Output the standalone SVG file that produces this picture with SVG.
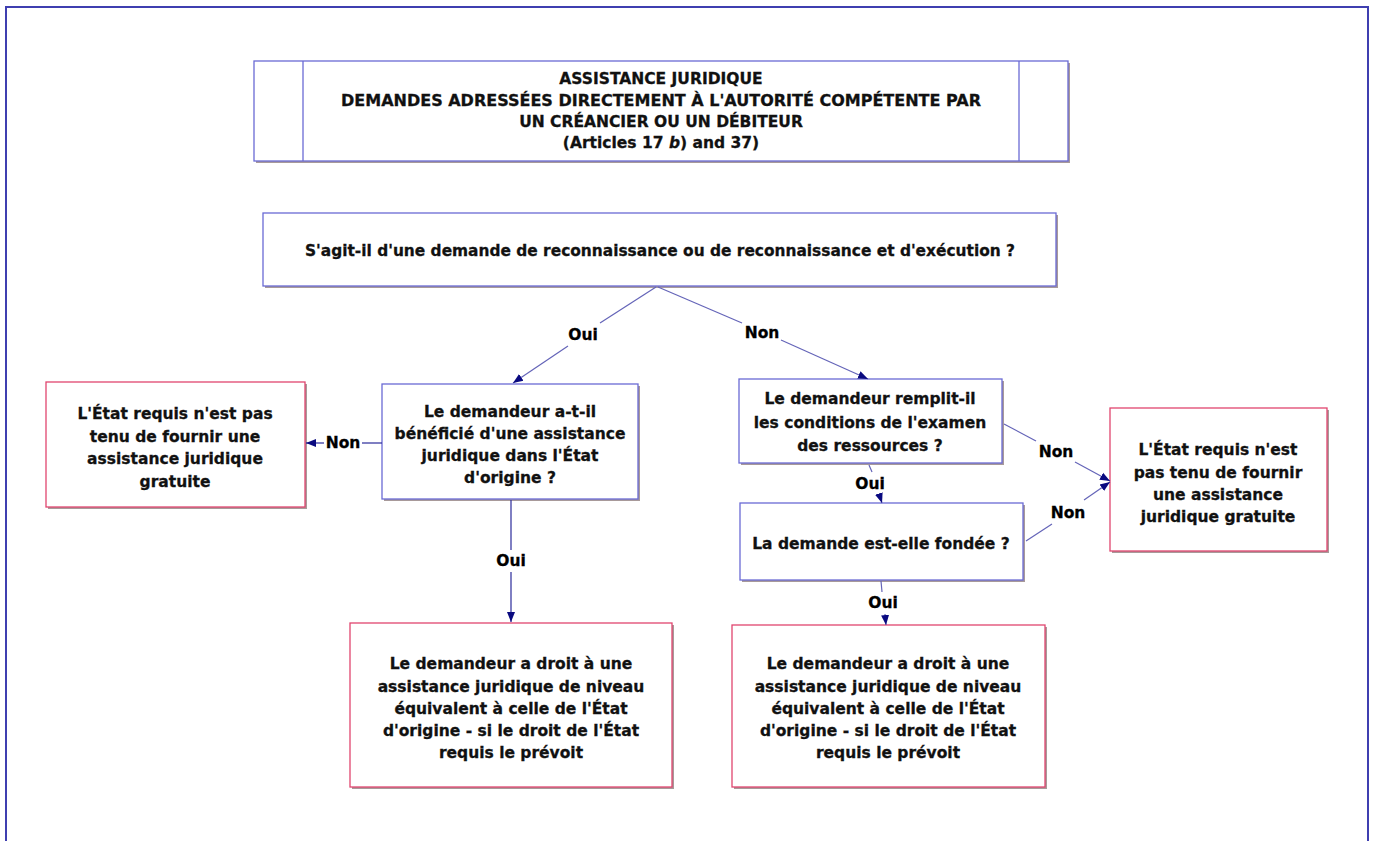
<svg xmlns="http://www.w3.org/2000/svg" width="1373" height="841" viewBox="0 0 1373 841">
  <style>
    .shadow { fill: #a89a9a; }
    .box { fill: #ffffff; stroke: #6a6ad4; stroke-width: 1.3; }
    .pink { fill: #ffffff; stroke: #e0456f; stroke-width: 1.3; }
    .t { font-family: "DejaVu Sans", Verdana, sans-serif; font-weight: bold; font-size: 15.5px; fill: #111111; stroke: #111111; stroke-width: 0.3; text-anchor: middle; }
    .lbl { font-family: "DejaVu Sans", Verdana, sans-serif; font-weight: bold; font-size: 15.5px; fill: #000000; stroke: #000000; stroke-width: 0.3; text-anchor: middle; dominant-baseline: central; }
    .c { fill: none; stroke: #6464b8; stroke-width: 1.2; }
    .cd { fill: none; stroke: #2a2a9a; stroke-width: 1.2; }
  </style>
  <defs>
    <marker id="ah" viewBox="0 0 10 10" refX="10" refY="5" markerWidth="10" markerHeight="10" markerUnits="userSpaceOnUse" orient="auto">
      <path d="M0,1 L10,5 L0,9 z" fill="#0a0a80"/>
    </marker>
  </defs>

  <rect x="0" y="0" width="1373" height="841" fill="#ffffff"/>
  <!-- outer frame -->
  <path d="M6,845 L6,7 L1368,7 L1368,845" fill="none" stroke="#3f3fb0" stroke-width="2"/>

  <!-- title -->
  <g id="title">
    <rect class="shadow" x="256" y="63" width="814" height="100"/>
    <rect class="box" x="254" y="61" width="814" height="100"/>
    <line x1="303" y1="61" x2="303" y2="161" stroke="#6a6ad4" stroke-width="1.3"/>
    <line x1="1019" y1="61" x2="1019" y2="161" stroke="#6a6ad4" stroke-width="1.3"/>
    <text class="t" x="661" y="84">ASSISTANCE JURIDIQUE</text>
    <text class="t" x="661" y="106" textLength="640" lengthAdjust="spacingAndGlyphs">DEMANDES ADRESSÉES DIRECTEMENT À L'AUTORITÉ COMPÉTENTE PAR</text>
    <text class="t" x="661" y="127">UN CRÉANCIER OU UN DÉBITEUR</text>
    <text class="t" x="661" y="148">(Articles 17 <tspan font-style="italic">b</tspan>) and 37)</text>
  </g>

  <g id="q1">
    <rect class="shadow" x="265" y="215" width="793" height="73"/>
    <rect class="box" x="263" y="213" width="793" height="73"/>
    <text class="t" x="660" y="256" textLength="710" lengthAdjust="spacingAndGlyphs">S'agit-il d'une demande de reconnaissance ou de reconnaissance et d'exécution ?</text>
  </g>

  <g id="q2">
    <rect class="shadow" x="384" y="386" width="256" height="115"/>
    <rect class="box" x="382" y="384" width="256" height="115"/>
    <text class="t" x="510" y="417">Le demandeur a-t-il</text>
    <text class="t" x="510" y="439">bénéficié d'une assistance</text>
    <text class="t" x="510" y="461">juridique dans l'État</text>
    <text class="t" x="510" y="483">d'origine ?</text>
  </g>

  <g id="no1">
    <rect class="shadow" x="48" y="384" width="259" height="125"/>
    <rect class="pink" x="46" y="382" width="259" height="125"/>
    <text class="t" x="175" y="419">L'État requis n'est pas</text>
    <text class="t" x="175" y="442">tenu de fournir une</text>
    <text class="t" x="175" y="464">assistance juridique</text>
    <text class="t" x="175" y="487">gratuite</text>
  </g>

  <g id="q3">
    <rect class="shadow" x="741" y="381" width="263" height="84"/>
    <rect class="box" x="739" y="379" width="263" height="84"/>
    <text class="t" x="870" y="404">Le demandeur remplit-il</text>
    <text class="t" x="870" y="428">les conditions de l'examen</text>
    <text class="t" x="870" y="451">des ressources ?</text>
  </g>

  <g id="q4">
    <rect class="shadow" x="742" y="505" width="283" height="77"/>
    <rect class="box" x="740" y="503" width="283" height="77"/>
    <text class="t" x="881" y="549">La demande est-elle fondée ?</text>
  </g>

  <g id="no2">
    <rect class="shadow" x="1112" y="410" width="217" height="143"/>
    <rect class="pink" x="1110" y="408" width="217" height="143"/>
    <text class="t" x="1218" y="455">L'État requis n'est</text>
    <text class="t" x="1218" y="478">pas tenu de fournir</text>
    <text class="t" x="1218" y="500">une assistance</text>
    <text class="t" x="1218" y="522">juridique gratuite</text>
  </g>

  <g id="yes1">
    <rect class="shadow" x="352" y="625" width="322" height="164"/>
    <rect class="pink" x="350" y="623" width="322" height="164"/>
    <text class="t" x="511" y="669">Le demandeur a droit à une</text>
    <text class="t" x="511" y="692">assistance juridique de niveau</text>
    <text class="t" x="511" y="714">équivalent à celle de l'État</text>
    <text class="t" x="511" y="736">d'origine - si le droit de l'État</text>
    <text class="t" x="511" y="758">requis le prévoit</text>
  </g>

  <g id="yes2">
    <rect class="shadow" x="734" y="627" width="313" height="162"/>
    <rect class="pink" x="732" y="625" width="313" height="162"/>
    <text class="t" x="888" y="669">Le demandeur a droit à une</text>
    <text class="t" x="888" y="692">assistance juridique de niveau</text>
    <text class="t" x="888" y="714">équivalent à celle de l'État</text>
    <text class="t" x="888" y="736">d'origine - si le droit de l'État</text>
    <text class="t" x="888" y="758">requis le prévoit</text>
  </g>

  <g id="connectors">
    <!-- q1 -> q2 (Oui) -->
    <line class="c" x1="656" y1="287" x2="600" y2="323"/>
    <line class="c" x1="568" y1="346" x2="513" y2="383" marker-end="url(#ah)"/>
    <text class="lbl" x="583" y="335">Oui</text>
    <!-- q1 -> q3 (Non) -->
    <line class="c" x1="658" y1="287" x2="742" y2="323"/>
    <line class="c" x1="781" y1="340" x2="868" y2="379" marker-end="url(#ah)"/>
    <text class="lbl" x="762" y="333">Non</text>
    <!-- q2 -> no1 (Non) -->
    <line class="cd" x1="382" y1="443" x2="362" y2="443"/>
    <line class="cd" x1="324" y1="443" x2="306" y2="443" marker-end="url(#ah)"/>
    <text class="lbl" x="343" y="443">Non</text>
    <!-- q2 -> yes1 (Oui) -->
    <line class="cd" x1="511" y1="500" x2="511" y2="550"/>
    <line class="cd" x1="511" y1="572" x2="511" y2="622" marker-end="url(#ah)"/>
    <text class="lbl" x="511" y="561">Oui</text>
    <!-- q3 -> q4 (Oui) -->
    <line class="c" x1="869" y1="465" x2="872" y2="472"/>
    <line class="c" x1="879" y1="494" x2="882" y2="503" marker-end="url(#ah)"/>
    <text class="lbl" x="870" y="484">Oui</text>
    <!-- q3 -> no2 (Non) -->
    <line class="c" x1="1004" y1="424" x2="1036" y2="441"/>
    <line class="c" x1="1075" y1="462" x2="1110" y2="481" marker-end="url(#ah)"/>
    <text class="lbl" x="1056" y="452">Non</text>
    <!-- q4 -> no2 (Non) -->
    <line class="c" x1="1026" y1="541" x2="1052" y2="524"/>
    <line class="c" x1="1084" y1="500" x2="1110" y2="482" marker-end="url(#ah)"/>
    <text class="lbl" x="1068" y="513">Non</text>
    <!-- q4 -> yes2 (Oui) -->
    <line class="c" x1="881" y1="581" x2="882" y2="592"/>
    <line class="c" x1="885" y1="614" x2="886" y2="625" marker-end="url(#ah)"/>
    <text class="lbl" x="883" y="603">Oui</text>
  </g>
</svg>
